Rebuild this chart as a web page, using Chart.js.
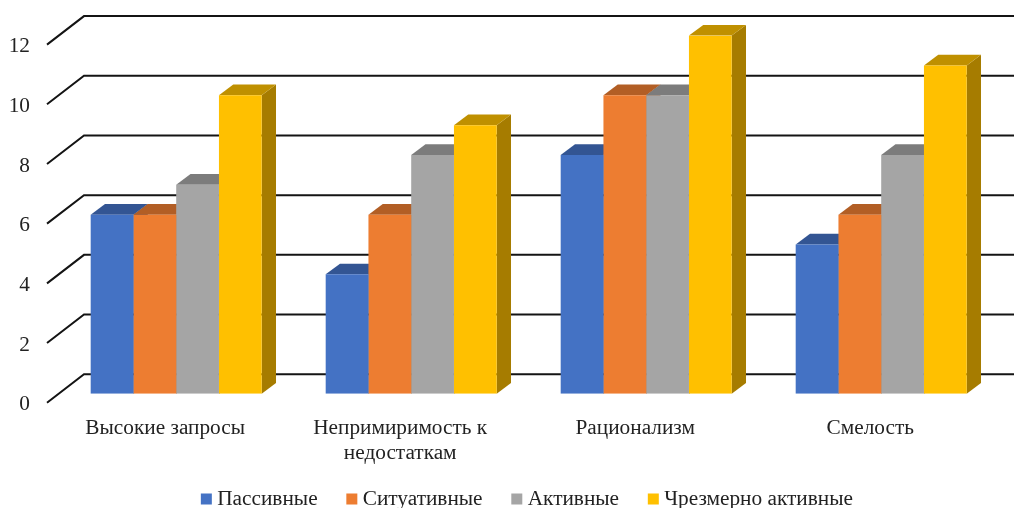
<!DOCTYPE html>
<html><head><meta charset="utf-8">
<style>html,body{margin:0;padding:0;background:#fff}#w{width:1014px;height:508px;position:relative;overflow:hidden}</style>
<script src="https://cdn.jsdelivr.net/npm/chart.js@4"></script></head>
<body><div id="w"><canvas id="c" width="1014" height="508"></canvas></div>
<script>
const categories = [['Высокие запросы'], ['Непримиримость к', 'недостаткам'], ['Рационализм'], ['Смелость']];
const seriesNames = ['Пассивные', 'Ситуативные', 'Активные', 'Чрезмерно активные'];
const passive = [6, 4, 8, 5];
const situational = [6, 6, 10, 6];
const active = [7, 8, 10, 8];
const excessive = [10, 9, 12, 11];
const frontColors = ['#4472C4', '#ED7D31', '#A5A5A5', '#FFC000'];
const topColors = ['#335593', '#B25E25', '#7C7C7C', '#BF9000'];
const sideColors = ['#2C4A80', '#9A5120', '#6B6B6B', '#A67C00'];
const yTicks = [0, 2, 4, 6, 8, 10, 12];
const seriesValues = [passive, situational, active, excessive];

const DEPTH_X = 14.3, DEPTH_Y = 10.7;
const WALL = {frontX: 47, backX: 84, right: 1014, frontDY: 9, backDY: -19.5};
const FONT = {family: '"Liberation Serif"', size: 21.3};
const LEGEND_TOP = 454.35, LEGEND_SHIFT = 22.5;

function poly(ctx, pts, color) {
  ctx.beginPath();
  pts.forEach((p, i) => i ? ctx.lineTo(p[0], p[1]) : ctx.moveTo(p[0], p[1]));
  ctx.closePath();
  ctx.fillStyle = color;
  ctx.fill();
}

const wall3d = {
  id: 'wall3d',
  beforeDraw(chart) {
    const lg = chart.legend;
    lg.top = LEGEND_TOP;
    lg.left = LEGEND_SHIFT;
    lg.right = chart.width + LEGEND_SHIFT;
  },
  beforeDatasetsDraw(chart) {
    const ctx = chart.ctx, y = chart.scales.y;
    ctx.save();
    ctx.strokeStyle = '#141414';
    ctx.lineWidth = 2;
    yTicks.forEach(v => {
      const p = y.getPixelForValue(v);
      ctx.beginPath();
      ctx.moveTo(WALL.frontX, p + WALL.frontDY);
      ctx.lineTo(WALL.backX, p + WALL.backDY);
      ctx.lineTo(WALL.right, p + WALL.backDY);
      ctx.stroke();
    });
    // depth faces, left to right; the library's fronts are painted afterwards
    categories.forEach((_, i) => {
      seriesValues.forEach((_, d) => {
        const b = chart.getDatasetMeta(d).data[i];
        const l = b.x - b.width / 2, r = b.x + b.width / 2;
        poly(ctx, [[r, b.y], [r + DEPTH_X, b.y - DEPTH_Y], [r + DEPTH_X, b.base - DEPTH_Y], [r, b.base]], sideColors[d]);
        poly(ctx, [[l, b.y], [l + DEPTH_X, b.y - DEPTH_Y], [r + DEPTH_X, b.y - DEPTH_Y], [r, b.y]], topColors[d]);
      });
    });
    ctx.restore();
  }
};

new Chart(document.getElementById('c'), {
  type: 'bar',
  data: {
    labels: categories,
    datasets: seriesNames.map((n, d) => ({label: n, data: seriesValues[d], backgroundColor: frontColors[d], borderWidth: 0}))
  },
  plugins: [wall3d],
  options: {
    responsive: false,
    animation: false,
    layout: {padding: {left: 0, right: 15.3, top: 35.6, bottom: -25}},
    datasets: {bar: {categoryPercentage: 0.7277, barPercentage: 1}},
    plugins: {
      tooltip: {enabled: false},
      legend: {
        position: 'bottom',
        labels: {font: FONT, color: '#222', usePointStyle: true, pointStyle: 'rect', boxWidth: 0.5, boxHeight: 11, padding: 34}
      }
    },
    scales: {
      x: {
        grid: {display: false, drawTicks: false},
        border: {display: false},
        afterFit(s) { s.height = 74; s.paddingLeft = 0; s.paddingRight = 0; },
        ticks: {font: {...FONT, lineHeight: 1.17}, color: '#222', padding: 22, labelOffset: -11, maxRotation: 0, autoSkip: false}
      },
      y: {
        min: 0, max: 12,
        afterFit(s) { s.width = 58.7; s.paddingTop = 0; s.paddingBottom = 0; },
        grid: {display: false, drawTicks: false},
        border: {display: false},
        ticks: {font: {...FONT, lineHeight: 1.03}, color: '#222', padding: 28.7, stepSize: 2, callback: v => ['', String(v)]}
      }
    }
  }
});
</script></body></html>
